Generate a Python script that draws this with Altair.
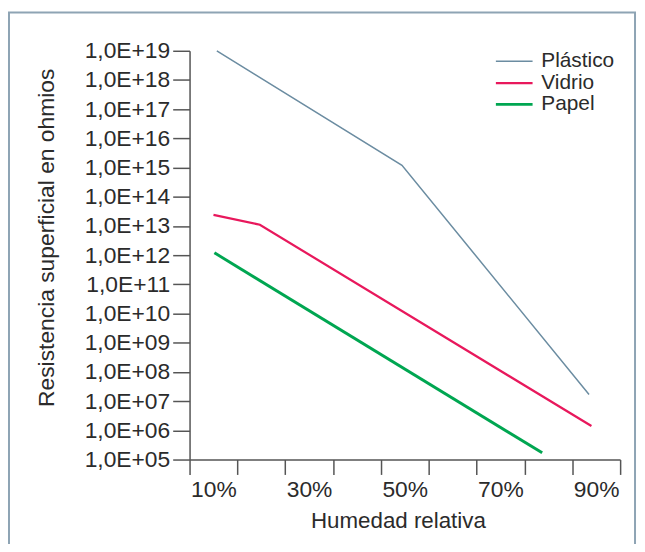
import altair as alt
import pandas as pd

# ---- data ----
series = ["Plástico", "Vidrio", "Papel"]
colors = ["#6b8ca1", "#e8185c", "#00a651"]
widths = [1.5, 3, 3]

plastico_x = [10.7, 49.4, 88.5]
plastico_y = [1.0e19, 1.2e15, 1.7e7]
vidrio_x = [10.0, 19.7, 89.0]
vidrio_y = [2.4e13, 1.1e13, 1.4e6]
papel_x = [10.2, 78.7]
papel_y = [1.2e12, 1.7e5]

x_tick_values = [5, 15, 25, 35, 45, 55, 65, 75, 85, 95]
x_label_ticks = [5, 25, 45, 65, 85]
x_labels = ["10%", "30%", "50%", "70%", "90%"]
y_tick_values = [10.0 ** k for k in range(5, 20)]

rows = []
for name, xs, ys in [("Plástico", plastico_x, plastico_y),
                     ("Vidrio", vidrio_x, vidrio_y),
                     ("Papel", papel_x, papel_y)]:
    for xv, yv in zip(xs, ys):
        rows.append({"serie": name, "h": xv, "r": yv})
df = pd.DataFrame(rows)

FONT = "Liberation Sans"
TXT = "#2b2b2b"
AX = "#555555"

x_label_expr = (
    "indexof(%s, datum.value) >= 0 ? %s[indexof(%s, datum.value)] : ''"
    % (str(x_label_ticks), str(x_labels), str(x_label_ticks))
)
y_label_expr = (
    "'1,0E+' + (round(log(datum.value)/LN10) < 10 ? '0' : '') + round(log(datum.value)/LN10)"
)

lines = alt.Chart(df).mark_line().encode(
    x=alt.X(
        "h:Q",
        scale=alt.Scale(domain=[5, 95], nice=False, zero=False),
        axis=alt.Axis(
            values=x_tick_values,
            labelExpr=x_label_expr,
            labelOffset=24,
            labelOverlap=False,
            labelBound=False,
            labelFlush=False,
            tickSize=15,
            labelPadding=4,
            labelFontSize=23,
            title="Humedad relativa",
            titleFontSize=22.5,
            titleX=210,
            titleY=62,
            titleAlign="center",
            titleBaseline="middle",
            grid=False,
        ),
    ),
    y=alt.Y(
        "r:Q",
        scale=alt.Scale(type="log", domain=[1e5, 1e19], nice=False),
        axis=alt.Axis(
            values=y_tick_values,
            labelExpr=y_label_expr,
            labelOverlap=False,
            labelBound=False,
            labelFlush=False,
            tickSize=17,
            labelPadding=3,
            labelFontSize=23,
            title="Resistencia superficial en ohmios",
            titleFontSize=23,
            titleX=-144,
            titleY=188,
            titleAngle=270,
            titleAlign="center",
            titleBaseline="middle",
            grid=False,
        ),
    ),
    color=alt.Color(
        "serie:N",
        scale=alt.Scale(domain=series, range=colors),
        legend=alt.Legend(
            orient="none",
            legendX=316.25,
            legendY=0,
            title=None,
            symbolType="M-2,0H2",
            symbolSize=342,
            symbolStrokeWidth=2,
            labelFontSize=21,
            labelFont=FONT,
            labelColor=TXT,
            labelOffset=16.25,
            padding=0,
            rowPadding=0,
        ),
    ),
    strokeWidth=alt.StrokeWidth(
        "serie:N", scale=alt.Scale(domain=series, range=widths), legend=None
    ),
)

frame = alt.Chart(alt.Data(values=[{"k": 1}])).mark_rect(
    filled=False, color="#8ea4b4", strokeWidth=2
).encode(
    x=alt.value(-182), x2=alt.value(449), y=alt.value(-38.5), y2=alt.value(700)
)

chart = alt.layer(frame, lines).properties(
    width=434,
    height=412,
    autosize=alt.AutoSizeParams(type="none"),
    padding={"left": 183, "top": 41, "right": 17, "bottom": 83},
).configure_view(stroke=None).configure_axis(
    labelFont=FONT,
    titleFont=FONT,
    titleFontWeight="normal",
    labelColor=TXT,
    titleColor=TXT,
    domainColor=AX,
    tickColor=AX,
    domainWidth=1.5,
    tickWidth=1.5,
)

chart.save("out.html", embed_options={"renderer": "svg", "actions": False})
